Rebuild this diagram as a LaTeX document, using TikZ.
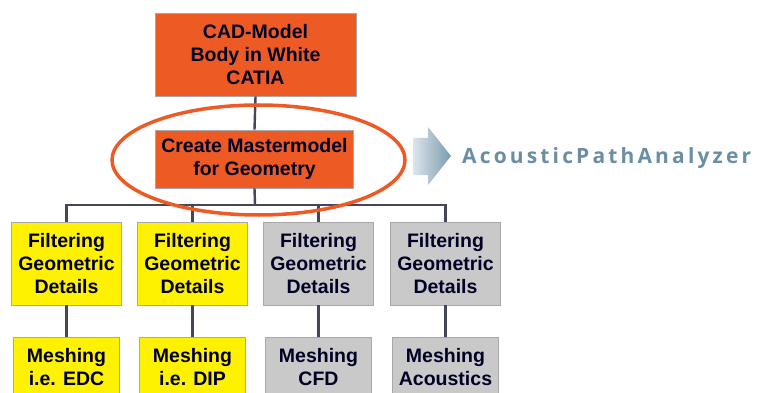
\documentclass[tikz,border=0pt]{standalone}
\usepackage{fontspec}
\setmainfont{Liberation Sans}
\newfontfamily\apafont[LetterSpace=15]{Open Sans}
\usetikzlibrary{shapes.geometric}
\definecolor{cadorange}{HTML}{EE5A24}
\definecolor{filtyellow}{HTML}{FFF200}
\definecolor{filtgray}{HTML}{C9C9C9}
\definecolor{boxedge}{HTML}{A8A8A8}
\definecolor{linkgray}{HTML}{46465A}
\definecolor{apablue}{HTML}{6A8EA3}
\definecolor{apalight}{HTML}{DDE5EB}
\definecolor{apadark}{HTML}{7B9AAE}
\begin{document}
\begin{tikzpicture}[x=1pt,y=-1pt,
    box/.style={rectangle,draw=boxedge,line width=0.8pt,align=center,inner sep=1pt,
      font=\fontsize{19.5}{23}\selectfont\bfseries,text=black!85!blue},
    link/.style={draw=linkgray,line width=2.4pt}]
  \clip (0,0) rectangle (760,393);
  % geometry chain
  \node[box,fill=cadorange,minimum width=201pt,minimum height=83pt] (cad) at (255.5,54.5) {CAD-Model\\Body in White\\CATIA};
  \node[box,fill=cadorange,minimum width=198pt,minimum height=58pt] (master) at (254.5,159) {Create Mastermodel\\for Geometry};
  \coordinate (bus) at (255,205);
  \foreach \x/\c/\t [count=\i] in {66.5/filtyellow/{i.e. EDC},192.5/filtyellow/{i.e. DIP},318.5/filtgray/CFD,445.5/filtgray/Acoustics}{
    \node[box,fill=\c,minimum width=110pt,minimum height=83pt] (filt\i) at (\x,263.5) {Filtering\\Geometric\\Details};
    \node[box,fill=\c,minimum width=106pt,minimum height=60pt] (mesh\i) at (\x,367) {Meshing\\\t};
    \draw[link] (bus) -| (filt\i.north) (filt\i.south) -- (mesh\i.north);
  }
  \draw[link] (cad.south) -- (master.north) (master.south) -- (bus);
  \node[draw=cadorange,line width=3.5pt,ellipse,minimum width=293pt,minimum height=110pt] (focus) at (258.5,160) {};
  % tool name
  \shade[left color=apalight,right color=apadark] (413,138) -- (428,138) -- (428,127) -- (451,156) -- (428,185) -- (428,175) -- (413,175) -- cycle;
  \node[anchor=base west,inner sep=0,text=apablue,font=\apafont\fontsize{21}{25}\selectfont\bfseries] (apa) at (462,163) {AcousticPathAnalyzer};
\end{tikzpicture}
\end{document}
